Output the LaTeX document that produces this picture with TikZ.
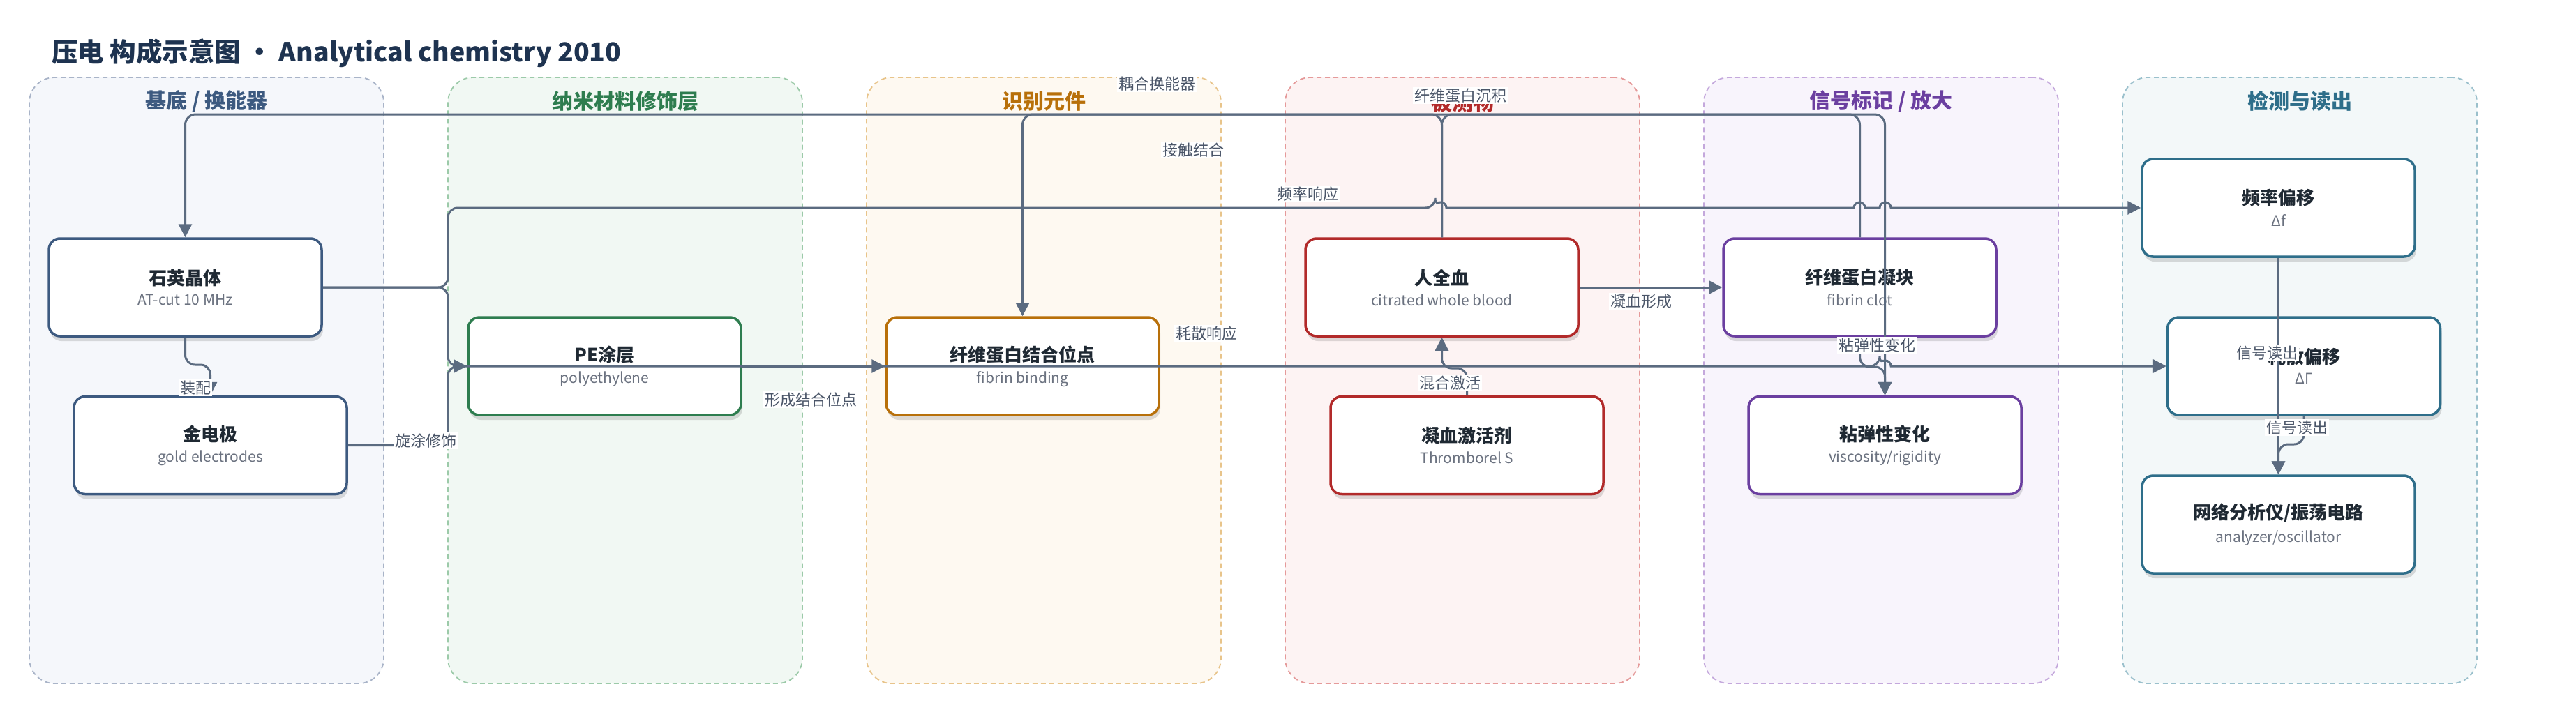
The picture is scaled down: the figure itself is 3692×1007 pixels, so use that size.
\documentclass[tikz,border=0pt]{standalone}
\usepackage{fontspec}
\setmainfont{Noto Sans CJK SC}
\usetikzlibrary{arrows.meta,shadows,calc}
\definecolor{edgec}{HTML}{5B6B80}
\definecolor{labc}{HTML}{4A5568}
\definecolor{subc}{HTML}{6B7280}
\definecolor{titlec}{HTML}{1E3350}
\definecolor{nodetxt}{HTML}{1F2933}
\definecolor{cA}{HTML}{3D5A80}\definecolor{fA}{HTML}{F5F7FB}\definecolor{bA}{HTML}{A9B4C8}
\definecolor{cB}{HTML}{2E7D4F}\definecolor{fB}{HTML}{F1F8F3}\definecolor{bB}{HTML}{9CCAA9}
\definecolor{cC}{HTML}{B8700A}\definecolor{fC}{HTML}{FEF9F1}\definecolor{bC}{HTML}{E8C48A}
\definecolor{cD}{HTML}{B22A2A}\definecolor{fD}{HTML}{FDF3F3}\definecolor{bD}{HTML}{E59A9A}
\definecolor{cE}{HTML}{6B3FA0}\definecolor{fE}{HTML}{F8F4FC}\definecolor{bE}{HTML}{C4A8DC}
\definecolor{cF}{HTML}{2E6E8A}\definecolor{fF}{HTML}{F3F8F9}\definecolor{bF}{HTML}{9AC0CC}
\newcommand\ntxt[2]{\fontsize{26}{35}\selectfont\bfseries\color{nodetxt}#1\\[10pt]\fontsize{21}{35}\selectfont\mdseries\color{subc}#2}
\tikzset{
  lanebox/.style={draw=#1, dash pattern=on 7pt off 5pt, line width=1.8pt, rounded corners=36pt,
    minimum width=508pt, minimum height=869pt},
  lanetitle/.style={font=\fontsize{30}{36}\selectfont\bfseries, text=#1},
  nbox/.style={draw=#1, line width=3.5pt, rounded corners=16pt, fill=white,
    minimum width=391pt, minimum height=140pt, align=center, inner sep=0pt,
    drop shadow={shadow xshift=2pt, shadow yshift=-7pt, opacity=0.13, fill=black}},
  edge/.style={draw=edgec, line width=3pt, -{Triangle[length=19pt,width=19pt]}},
  lbl/.style={font=\fontsize{22}{26}\selectfont, text=labc, fill=white, inner sep=2pt}
}
\begin{document}
\begin{tikzpicture}[x=1pt,y=-1pt]
\useasboundingbox[fill=white] (0,0) rectangle (3692,1007);
% title
\node[anchor=west, font=\fontsize{37.5}{45}\selectfont\bfseries, text=titlec, inner sep=0pt] (title) at (74,76) {压电 构成示意图 · Analytical chemistry 2010};
% lanes
\node[lanebox=bA, fill=fA] (laneA) at (296,545.5) {};
\node[lanebox=bB, fill=fB] (laneB) at (896,545.5) {};
\node[lanebox=bC, fill=fC] (laneC) at (1496,545.5) {};
\node[lanebox=bD, fill=fD] (laneD) at (2096,545.5) {};
\node[lanebox=bE, fill=fE] (laneE) at (2696,545.5) {};
\node[lanebox=bF, fill=fF] (laneF) at (3296,545.5) {};
\node[lanetitle=cA] (tA) at (296,145) {基底 / 换能器};
\node[lanetitle=cB] (tB) at (896,145) {纳米材料修饰层};
\node[lanetitle=cC] (tC) at (1496,145) {识别元件};
\node[lanetitle=cD] (tD) at (2096,147) {被测物};
\node[lanetitle=cE] (tE) at (2696,145) {信号标记 / 放大};
\node[lanetitle=cF] (tF) at (3296,145) {检测与读出};
% nodes
\node[nbox=cA] (q) at (265.5,412) {\ntxt{石英晶体}{AT-cut 10 MHz}};
\node[nbox=cA] (au) at (301.5,638.5) {\ntxt{金电极}{gold electrodes}};
\node[nbox=cB] (pe) at (866.5,525) {\ntxt{PE涂层}{polyethylene}};
\node[nbox=cC] (fbs) at (1465.5,525) {\ntxt{纤维蛋白结合位点}{fibrin binding}};
\node[nbox=cD] (blood) at (2066.5,412) {\ntxt{人全血}{citrated whole blood}};
\node[nbox=cD] (act) at (2102.5,638.5) {\ntxt{凝血激活剂}{Thromborel S}};
\node[nbox=cE] (clot) at (2665.5,412) {\ntxt{纤维蛋白凝块}{fibrin clot}};
\node[nbox=cE] (visc) at (2701.5,638.5) {\ntxt{粘弹性变化}{viscosity/rigidity}};
\node[nbox=cF] (fshift) at (3265.5,298) {\ntxt{频率偏移}{Δf}};
\node[nbox=cF] (dshift) at (3302,525) {\ntxt{耗散偏移}{ΔΓ}};
\node[nbox=cF] (na) at (3265.5,752) {\ntxt{网络分析仪/振荡电路}{analyzer/oscillator}};
\coordinate (top) at (0,164);
% edges
\draw[edge, rounded corners=15pt] (clot.north) -- (clot.north |- top) -| (q.north);
\draw[edge, rounded corners=15pt] (blood.north) -- (blood.north |- top) -| (fbs.north);
\draw[edge, rounded corners=15pt] (blood.north) -- (blood.north |- top) -| (visc.north);
\draw[edge] (q.east) [rounded corners=14pt] -- (642,412) -- (642,298) -- (2057,298) [sharp corners]
  arc[start angle=180, end angle=360, radius=8] -- (2657,298)
  arc[start angle=180, end angle=360, radius=8] -- (2694,298)
  arc[start angle=180, end angle=360, radius=8] -- (fshift.west);
\draw[edge] (q.east) [rounded corners=14pt] -- (642,412) -- (642,525) -- (2694,525) [sharp corners]
  arc[start angle=180, end angle=360, radius=8] -- (dshift.west);
\draw[edge, rounded corners=14pt] (au.east) -- (642,638.5) -- (642,525) -- (pe.west);
\draw[edge] (pe.east) -- (fbs.west);
\draw[edge, rounded corners=14pt] (q.south) -- (265.5,523) -- (301.5,523) -- (au.north);
\draw[edge, rounded corners=14pt] (act.north) -- (2102.5,528) -- (2066.5,528) -- (blood.south);
\draw[edge] (blood.east) -- (clot.west);
\draw[edge, rounded corners=14pt] (clot.south) -- (2665.5,526) -- (2701.5,526) -- (visc.north);
\draw[edge] (fshift.south) -- (na.north);
\draw[edge, rounded corners=14pt] (dshift.south) -- (3302,637) -- (3265.5,637) -- (na.north);
% labels
\node[lbl] (l1) at (280,556) {装配};
\node[lbl] (l2) at (610,632) {旋涂修饰};
\node[lbl] (l3) at (1162,573) {形成结合位点};
\node[lbl] (l4) at (1729,478) {耗散响应};
\node[lbl] (l5) at (1874,278) {频率响应};
\node[lbl] (l6) at (1710,215) {接触结合};
\node[lbl] (l7) at (1658,120) {耦合换能器};
\node[lbl] (l8) at (2093,137) {纤维蛋白沉积};
\node[lbl] (l9) at (2352,432) {凝血形成};
\node[lbl] (l10) at (2078,549) {混合激活};
\node[lbl] (l11) at (2690,495) {粘弹性变化};
\node[lbl] (l12) at (3249,506) {信号读出};
\node[lbl] (l13) at (3292,613) {信号读出};
\end{tikzpicture}
\end{document}
